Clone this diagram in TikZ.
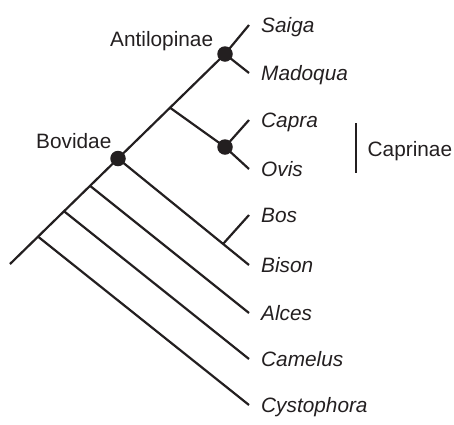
\documentclass[tikz,border=0pt]{standalone}
\usepackage{fontspec}
\setmainfont{Liberation Sans}
\definecolor{ink}{HTML}{231F20}
\begin{document}
\begin{tikzpicture}[x=1pt,y=-1pt,
  branch/.style={draw=ink,line width=2.2pt},
  dotnode/.style={circle,fill=ink,inner sep=0pt,minimum size=15.5pt},
  taxon/.style={anchor=base west,inner sep=0pt,text=ink,font=\fontsize{20.8}{24}\selectfont\itshape},
  clade/.style={anchor=base west,inner sep=0pt,text=ink,font=\fontsize{20.8}{24}\selectfont}]
\useasboundingbox (0,0) rectangle (454,424);
% axis nodes
\coordinate (root) at (10,264);
\coordinate (nCys) at (38,236.6);
\coordinate (nCam) at (64,211.2);
\coordinate (nAlc) at (90,185.8);
\coordinate (nBov) at (118,158.5);
\coordinate (nCapr) at (170,107.7);
\coordinate (nAnt) at (225,54);
\coordinate (nCO) at (225,147);
\coordinate (nBB) at (223,244);
% tips
\coordinate (tSai) at (249,25);
\coordinate (tMad) at (249,73);
\coordinate (tCap) at (249,120);
\coordinate (tOvi) at (249,169);
\coordinate (tBos) at (249,215);
\coordinate (tBis) at (249,265);
\coordinate (tAlc) at (249,313);
\coordinate (tCam) at (249,359);
\coordinate (tCys) at (249,405);
% branches
\draw[branch] (root) -- (nAnt) -- (tSai);
\draw[branch] (nAnt) -- (tMad);
\draw[branch] (nCapr) -- (nCO) -- (tOvi);
\draw[branch] (nCO) -- (tCap);
\draw[branch] (nBov) -- (tBis);
\draw[branch] (nBB) -- (tBos);
\draw[branch] (nAlc) -- (tAlc);
\draw[branch] (nCam) -- (tCam);
\draw[branch] (nCys) -- (tCys);
% dots
\node[dotnode] (dAnt) at (nAnt) {};
\node[dotnode] (dCO) at (nCO) {};
\node[dotnode] (dBov) at (nBov) {};
% taxon labels
\node[taxon] (lSai) at ([xshift=12pt,yshift=-7pt]tSai) {Saiga};
\node[taxon] (lMad) at ([xshift=12pt,yshift=-7pt]tMad) {Madoqua};
\node[taxon] (lCap) at ([xshift=12pt,yshift=-7pt]tCap) {Capra};
\node[taxon] (lOvi) at ([xshift=12pt,yshift=-7pt]tOvi) {Ovis};
\node[taxon] (lBos) at ([xshift=12pt,yshift=-7pt]tBos) {Bos};
\node[taxon] (lBis) at ([xshift=12pt,yshift=-7pt]tBis) {Bison};
\node[taxon] (lAlc) at ([xshift=12pt,yshift=-7pt]tAlc) {Alces};
\node[taxon] (lCam) at ([xshift=12pt,yshift=-7pt]tCam) {Camelus};
\node[taxon] (lCys) at ([xshift=12pt,yshift=-7pt]tCys) {Cystophora};
% clade labels
\node[clade] (lAnt) at (110,46.7) {Antilopinae};
\node[clade] (lBov) at (36,148.3) {Bovidae};
\coordinate (barTop) at (356,123);
\coordinate (barBot) at (356,173);
\draw[branch] (barTop) -- (barBot);
\node[clade] (lCapr) at (367.5,156) {Caprinae};
\end{tikzpicture}
\end{document}
